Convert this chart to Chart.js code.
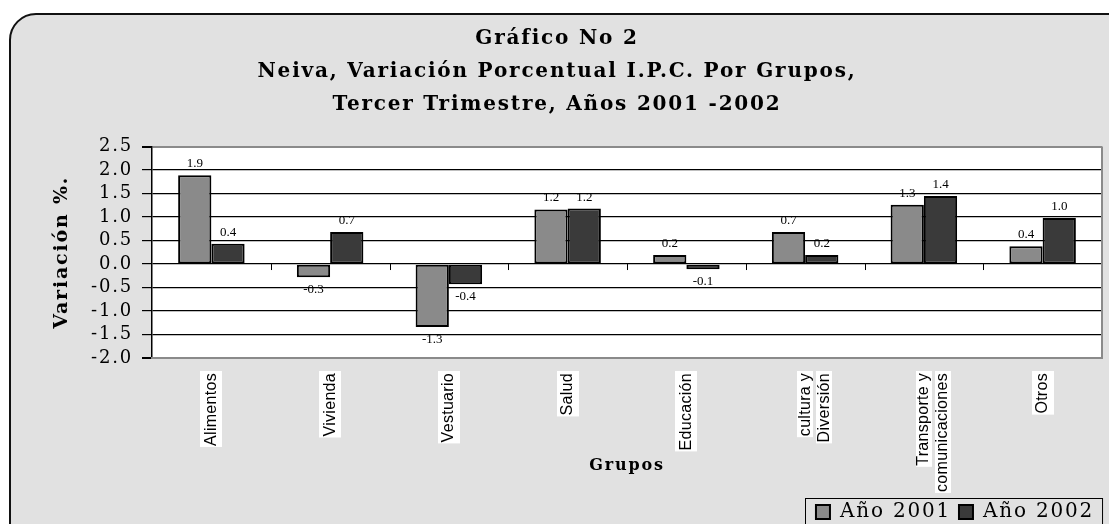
<!DOCTYPE html>
<html>
<head>
<meta charset="utf-8">
<script src="https://cdn.jsdelivr.net/npm/chart.js@4.4.0/dist/chart.umd.min.js"></script>
<style>
  html, body { margin: 0; padding: 0; background: #ffffff; overflow: hidden; }
  #wrap { width: 1109px; height: 524px; overflow: hidden; }
</style>
</head>
<body>
<div id="wrap"><canvas id="grafica" width="1120" height="532"></canvas></div>
<script>
// categorias y valores
var grupos = ['Alimentos', 'Vivienda', 'Vestuario', 'Salud', 'Educación',
    ['cultura y', 'Diversión'], ['Transporte y', 'comunicaciones'], 'Otros'];
var anio2001 = [1.89, -0.28, -1.34, 1.16, 0.19, 0.68, 1.26, 0.38];
var anio2002 = [0.43, 0.68, -0.43, 1.18, -0.11, 0.19, 1.45, 0.98];
var ticksY = [2.5, 2.0, 1.5, 1.0, 0.5, 0.0, -0.5, -1.0, -1.5, -2.0];

var serif = "'DejaVu Serif', serif";
var fuenteX = "'Liberation Sans', Arial, sans-serif";
var tamX = 16;
var padX = 15;
var espacioX = '0.3px';
var espacio = '1.8px';

// fondo gris con borde redondeado y area blanca
var fondo = {
    id: 'fondo',
    beforeLayout: function (chart) {
        chart.ctx.letterSpacing = espacio;
    },
    beforeDraw: function (chart) {
        var ctx = chart.ctx;
        var a = chart.chartArea;
        ctx.save();
        ctx.letterSpacing = '0px';
        ctx.fillStyle = '#ffffff';
        ctx.fillRect(0, 0, chart.width, chart.height);
        ctx.beginPath();
        ctx.roundRect(10, 14, chart.width + 20, chart.height + 30, 26);
        ctx.fillStyle = '#e1e1e1';
        ctx.fill();
        ctx.lineWidth = 2;
        ctx.strokeStyle = '#111111';
        ctx.stroke();
        ctx.fillStyle = '#ffffff';
        ctx.fillRect(a.left, a.top, a.right - a.left, a.bottom - a.top);
        // fondo blanco de cada linea de las etiquetas del eje x
        var xs = chart.scales.x;
        ctx.font = tamX + 'px ' + fuenteX;
        ctx.letterSpacing = espacioX;
        var lh = tamX * 1.2;
        grupos.forEach(function (g, k) {
            var lineas = Array.isArray(g) ? g : [g];
            var cx = xs.getPixelForTick(k);
            var ancho = lineas.length > 1 ? lh - 3 : lh + 3;
            lineas.forEach(function (t, j) {
                var w = ctx.measureText(t).width;
                ctx.fillRect(Math.round(cx + j * lh - ancho / 2), xs.top + padX - 2, Math.round(ancho), w + 3);
            });
        });
        ctx.restore();
        // letras anchas para titulo, leyenda y eje y
        ctx.letterSpacing = espacio;
    },
    beforeDatasetsDraw: function (chart) {
        chart.ctx.letterSpacing = '0px';
    },
    afterDatasetsDraw: function (chart) {
        var ctx = chart.ctx;
        var a = chart.chartArea;
        ctx.save();
        ctx.strokeStyle = '#8a8a8a';
        ctx.lineWidth = 2;
        ctx.beginPath();
        ctx.moveTo(a.right, a.top);
        ctx.lineTo(a.right, a.bottom);
        ctx.stroke();
        // marcas del eje x sobre la linea cero
        var xs = chart.scales.x;
        var y0 = chart.scales.y.getPixelForValue(0);
        ctx.strokeStyle = '#000000';
        ctx.lineWidth = 1;
        for (var i = 1; i < grupos.length; i++) {
            var px = Math.round((xs.getPixelForValue(i - 1) + xs.getPixelForValue(i)) / 2) + 0.5;
            ctx.beginPath();
            ctx.moveTo(px, y0);
            ctx.lineTo(px, y0 + 6);
            ctx.stroke();
        }
        ctx.restore();
        ctx.letterSpacing = espacioX;
    },
    afterDraw: function (chart) {
        var ctx = chart.ctx;
        ctx.letterSpacing = espacio;
        // recuadro de la leyenda
        var lg = chart.legend;
        if (lg && lg.legendHitBoxes.length) {
            var hb = lg.legendHitBoxes;
            var x1 = hb[0].left - 11;
            var last = hb[hb.length - 1];
            var x2 = last.left + last.width + 8;
            ctx.save();
            ctx.strokeStyle = '#000000';
            ctx.lineWidth = 1;
            ctx.strokeRect(Math.round(x1) + 0.5, Math.round(hb[0].top - 4) + 0.5, x2 - x1, 50);
            ctx.restore();
        }
    }
};

// etiquetas de valores
var etiquetas = {
    id: 'etiquetas',
    afterDatasetsDraw: function (chart) {
        var ctx = chart.ctx;
        ctx.save();
        ctx.letterSpacing = '0px';
        ctx.font = "13px 'Liberation Serif', serif";
        ctx.fillStyle = '#000000';
        ctx.textAlign = 'center';
        chart.data.datasets.forEach(function (ds, d) {
            var meta = chart.getDatasetMeta(d);
            meta.data.forEach(function (bar, i) {
                var v = ds.data[i];
                if (v >= 0) {
                    ctx.textBaseline = 'bottom';
                    ctx.fillText(v.toFixed(1), bar.x, bar.y - 5);
                } else {
                    ctx.textBaseline = 'top';
                    ctx.fillText(v.toFixed(1), bar.x, bar.y + 6);
                }
            });
        });
        ctx.restore();
    }
};

var ctx = document.getElementById('grafica').getContext('2d');
var grafica = new Chart(ctx, {
    type: 'bar',
    data: {
        labels: grupos,
        datasets: [{
            label: 'Año 2001',
            data: anio2001,
            backgroundColor: '#8a8a8a',
            borderColor: '#000000',
            borderWidth: 2,
            borderSkipped: false,
            barPercentage: 1,
            categoryPercentage: 0.56
        }, {
            label: 'Año 2002',
            data: anio2002,
            backgroundColor: '#3a3a3a',
            borderColor: '#000000',
            borderWidth: 2,
            borderSkipped: false,
            barPercentage: 1,
            categoryPercentage: 0.56
        }]
    },
    options: {
        responsive: false,
        animation: false,
        layout: { padding: { left: 12, right: 18, top: 2, bottom: 0 } },
        plugins: {
            title: {
                display: true,
                text: ['Gráfico No 2', 'Neiva, Variación Porcentual I.P.C. Por Grupos,', 'Tercer Trimestre, Años 2001 -2002'],
                color: '#000000',
                font: { family: serif, size: 20, weight: 'bold', lineHeight: 1.66 },
                padding: { top: 20, bottom: 25 }
            },
            legend: {
                position: 'bottom',
                align: 'end',
                labels: {
                    color: '#000000',
                    font: { family: serif, size: 20 },
                    boxWidth: 14,
                    boxHeight: 14,
                    padding: 8
                }
            },
            tooltip: { enabled: false }
        },
        scales: {
            y: {
                min: -2.0,
                max: 2.5,
                afterFit: function (s) { s.width = 140; },
                afterBuildTicks: function (s) {
                    s.ticks = ticksY.map(function (v) { return { value: v }; });
                },
                ticks: {
                    color: '#000000',
                    font: { family: serif, size: 18 },
                    padding: 9,
                    autoSkip: false,
                    callback: function (v) { return Number(v).toFixed(1); }
                },
                grid: {
                    color: function (c) {
                        var v = c.tick ? c.tick.value : 0;
                        return (v === 2.5 || v === -2.0) ? '#8a8a8a' : '#000000';
                    },
                    lineWidth: function (c) {
                        var v = c.tick ? c.tick.value : 0;
                        return (v === 2.5 || v === -2.0) ? 2 : 1.2;
                    },
                    tickColor: '#000000',
                    tickLength: 10
                },
                border: { color: '#000000', width: 1.5 },
                title: {
                    display: true,
                    text: 'Variación %.',
                    color: '#000000',
                    font: { family: serif, size: 19, weight: 'bold' },
                    padding: { top: 39, bottom: 0 }
                }
            },
            x: {
                afterFit: function (s) { s.height = 136; },
                ticks: {
                    z: 1,
                    color: '#000000',
                    font: { family: fuenteX, size: tamX },
                    minRotation: 90,
                    maxRotation: 90,
                    padding: padX,
                    autoSkip: false
                },
                grid: { display: false, drawTicks: false },
                border: { color: '#8a8a8a', width: 2 },
                title: {
                    display: true,
                    text: 'Grupos',
                    color: '#000000',
                    font: { family: serif, size: 16, weight: 'bold' },
                    padding: { top: 0, bottom: 19 }
                }
            }
        }
    },
    plugins: [fondo, etiquetas]
});
</script>
</body>
</html>
